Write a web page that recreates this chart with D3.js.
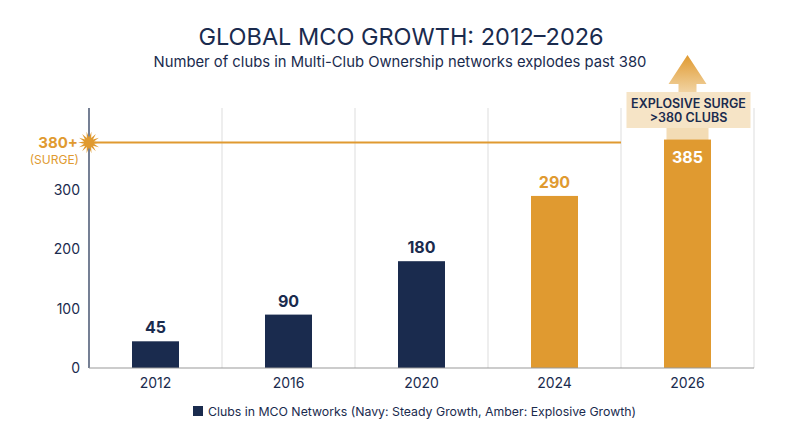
<!DOCTYPE html><html><head><meta charset="utf-8">
<script src="https://cdn.jsdelivr.net/npm/d3@7"></script>
<style>body{margin:0;background:#fff;font-family:Inter,"Noto Sans",sans-serif}</style></head><body>
<svg id="c" width="800" height="447"></svg>
<script>
const categories=["2012","2016","2020","2024","2026"];
const values=[45,90,180,290,385];
const phases=["steady","steady","steady","explosive","explosive"];
const yTicks=[0,100,200,300];
const surgeLevel=380;
const navy="#1a2b4e",amber="#e09a30";
const svg=d3.select("#c");
const x=d3.scaleBand().domain(categories).range([89,754]).paddingInner(0).paddingOuter(0);
const y=d3.scaleLinear().domain([0,300]).range([368,190]);
svg.append("text").attr("x",401).attr("y",45).attr("text-anchor","middle").attr("font-size",23.5).attr("fill",navy).text("GLOBAL MCO GROWTH: 2012–2026");
svg.append("text").attr("x",400).attr("y",67).attr("text-anchor","middle").attr("font-size",14.8).attr("fill",navy).text("Number of clubs in Multi-Club Ownership networks explodes past 380");
categories.forEach((c,i)=>{ if(i>0) svg.append("line").attr("x1",x(c)).attr("x2",x(c)).attr("y1",108).attr("y2",368).attr("stroke","#ddd");});
svg.append("line").attr("x1",754).attr("x2",754).attr("y1",108).attr("y2",368).attr("stroke","#ddd");
svg.append("line").attr("x1",89).attr("x2",x("2026")).attr("y1",y(surgeLevel)).attr("y2",y(surgeLevel)).attr("stroke",amber).attr("stroke-width",2);
const cx=x("2026")+x.bandwidth()/2;
const defs=svg.append("defs");
const g=defs.append("linearGradient").attr("id","ag").attr("x1",0).attr("x2",0).attr("y1",0).attr("y2",1);
g.append("stop").attr("offset",0).attr("stop-color",amber);
g.append("stop").attr("offset",1).attr("stop-color","#f3d9ae");
svg.append("path").attr("d",`M${cx},55 L${cx+19},84 L${cx+9},84 L${cx+9},96 L${cx-9},96 L${cx-9},84 L${cx-19},84 Z`).attr("fill","url(#ag)");
svg.append("rect").attr("x",cx-21).attr("y",125).attr("width",42).attr("height",15).attr("fill","#f3dcb5");
svg.append("rect").attr("x",cx-61).attr("y",92).attr("width",124).attr("height",36).attr("fill","#f6e4c6");
svg.append("text").attr("x",cx+1).attr("y",108).attr("text-anchor","middle").attr("font-size",12.5).attr("font-weight",600).attr("fill",navy).text("EXPLOSIVE SURGE");
svg.append("text").attr("x",cx+1).attr("y",122).attr("text-anchor","middle").attr("font-size",12.5).attr("font-weight",600).attr("fill",navy).text(">380 CLUBS");
const bw=47;
categories.forEach((c,i)=>{
 const col=phases[i]==="steady"?navy:amber;
 const bx=x(c)+x.bandwidth()/2-bw/2;
 svg.append("rect").attr("x",bx).attr("y",y(values[i])).attr("width",bw).attr("height",y(0)-y(values[i])).attr("fill",col);
 const inside=values[i]>350;
 svg.append("text").attr("x",bx+bw/2).attr("y",inside?y(values[i])+23:y(values[i])-8).attr("text-anchor","middle").attr("font-size",16).attr("font-weight",700).attr("fill",inside?"#fff":col).text(values[i]);
});
svg.append("line").attr("x1",89).attr("x2",89).attr("y1",108).attr("y2",368).attr("stroke",navy).attr("stroke-width",1.2);
svg.append("line").attr("x1",89).attr("x2",754).attr("y1",368).attr("y2",368).attr("stroke","#999");
yTicks.forEach(t=>svg.append("text").attr("x",80).attr("y",y(t)+5).attr("text-anchor","end").attr("font-size",14).attr("fill",navy).text(t));
categories.forEach(c=>svg.append("text").attr("x",x(c)+x.bandwidth()/2).attr("y",388).attr("text-anchor","middle").attr("font-size",14).attr("fill",navy).text(c));
const sy=y(surgeLevel);let pts=[];for(let k=0;k<28;k++){const r=k%2?5:11;const a=k*Math.PI/14;pts.push([89+r*Math.cos(a),sy+r*Math.sin(a)]);}
svg.append("polygon").attr("points",pts.map(p=>p.join(",")).join(" ")).attr("fill",amber);
svg.append("text").attr("x",78).attr("y",sy+5).attr("text-anchor","end").attr("font-size",15).attr("font-weight",700).attr("fill",amber).text("380+");
svg.append("text").attr("x",79).attr("y",sy+21).attr("text-anchor","end").attr("font-size",12).attr("fill",amber).text("(SURGE)");
svg.append("rect").attr("x",193).attr("y",406).attr("width",10).attr("height",10).attr("fill",navy);
svg.append("text").attr("x",208).attr("y",416).attr("font-size",12.3).attr("fill",navy).text("Clubs in MCO Networks (Navy: Steady Growth, Amber: Explosive Growth)");
</script></body></html>
